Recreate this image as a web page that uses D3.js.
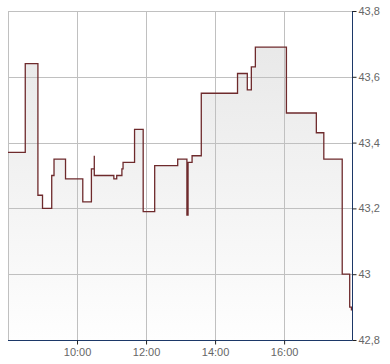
<!DOCTYPE html>
<html>
<head>
<meta charset="utf-8">
<script src="https://cdn.jsdelivr.net/npm/d3@7"></script>
<style>
  body { margin: 0; background: #fff; }
  svg { display: block; font-family: Arial, "Liberation Sans", sans-serif; }
</style>
</head>
<body>
<svg id="chart" width="390" height="364"></svg>
<script>
// trade times (HH:MM) and prices, step line
var times = ['08:00', '08:30', '08:52', '09:00', '09:16', '09:20', '09:40', '10:10',
  '10:25', '10:30', '10:30', '11:04', '11:09', '11:18', '11:20', '11:40', '11:55',
  '12:15', '12:55', '13:11', '13:13', '13:20', '13:36', '14:39', '14:56', '15:03',
  '15:10', '16:04', '16:56', '17:09', '17:41', '17:54', '17:57'];
var prices = [43.37, 43.64, 43.24, 43.20, 43.30, 43.35, 43.29, 43.22,
  43.32, 43.36, 43.30, 43.29, 43.30, 43.32, 43.34, 43.44, 43.19,
  43.33, 43.35, 43.18, 43.34, 43.36, 43.55, 43.61, 43.56, 43.63,
  43.69, 43.49, 43.43, 43.35, 43.00, 42.90, 42.89];
var yTicks = [42.8, 43.0, 43.2, 43.4, 43.6, 43.8];
var xTicks = ['10:00', '12:00', '14:00', '16:00'];

var parse = d3.timeParse('%H:%M');
var data = times.map(function(t, i) { return { t: parse(t), v: prices[i] }; });

var plotLeft = 8, plotRight = 352, plotTop = 11, plotBottom = 340;
var svg = d3.select('#chart');

var x = d3.scaleTime()
  .domain([parse('08:00'), parse('17:58')])
  .range([plotLeft, plotRight]);
var y = d3.scaleLinear()
  .domain([42.8, 43.8])
  .range([plotBottom, plotTop]);

var grad = svg.append('defs').append('linearGradient').attr('id', 'fillGrad')
  .attr('gradientUnits', 'userSpaceOnUse')
  .attr('x1', 0).attr('x2', 0).attr('y1', plotTop).attr('y2', plotBottom);
grad.append('stop').attr('offset', 0).attr('stop-color', '#e6e6e6');
grad.append('stop').attr('offset', 1).attr('stop-color', '#fefefe');

// area under the step line
var area = d3.area()
  .curve(d3.curveStepAfter)
  .x(function(d) { return x(d.t); })
  .y0(plotBottom)
  .y1(function(d) { return y(d.v); });
svg.append('path').datum(data)
  .attr('d', area)
  .attr('fill', 'url(#fillGrad)');

// grid
var grid = svg.append('g').attr('stroke', '#c0c0c0').attr('stroke-width', 1);
grid.selectAll('.hg').data(yTicks).enter().append('line')
  .attr('x1', plotLeft).attr('x2', plotRight)
  .attr('y1', function(d) { return Math.round(y(d)) + 0.5; })
  .attr('y2', function(d) { return Math.round(y(d)) + 0.5; });
grid.selectAll('.vg').data(xTicks).enter().append('line')
  .attr('x1', function(d) { return Math.round(x(parse(d))) + 0.5; })
  .attr('x2', function(d) { return Math.round(x(parse(d))) + 0.5; })
  .attr('y1', plotTop).attr('y2', plotBottom);
grid.append('line').attr('x1', plotLeft + 0.5).attr('x2', plotLeft + 0.5)
  .attr('y1', plotTop).attr('y2', plotBottom);

// price line
var line = d3.line()
  .curve(d3.curveStepAfter)
  .x(function(d) { return x(d.t); })
  .y(function(d) { return y(d.v); });
svg.append('path').datum(data)
  .attr('d', line)
  .attr('fill', 'none')
  .attr('stroke', '#6e2a2c')
  .attr('stroke-width', 1.3);

// axes
var axisColor = '#1c3868';
var yAxis = d3.axisRight(y).tickValues(yTicks).tickSize(4).tickPadding(2)
  .tickFormat(function(d) { return d3.format('.1f')(d).replace('.', ',').replace(',0', ''); });
var ya = svg.append('g').attr('transform', 'translate(' + (plotRight + 0.5) + ',0)')
  .call(yAxis);
ya.select('.domain').attr('stroke', axisColor).attr('d', 'M0,' + plotTop + 'V' + (plotBottom + 0.5));

var xAxis = d3.axisBottom(x).tickValues(xTicks.map(parse)).tickSize(4).tickPadding(4)
  .tickFormat(d3.timeFormat('%H:%M'));
var xa = svg.append('g').attr('transform', 'translate(0,' + (plotBottom + 0.5) + ')')
  .call(xAxis);
xa.select('.domain').attr('stroke', axisColor).attr('d', 'M' + plotLeft + ',0H' + (plotRight + 0.5));

svg.selectAll('.tick line').attr('stroke', '#222');
svg.selectAll('.tick text').attr('fill', '#666').attr('font-size', 11)
  .attr('font-family', 'Arial, "Liberation Sans", sans-serif');
</script>
</body>
</html>
